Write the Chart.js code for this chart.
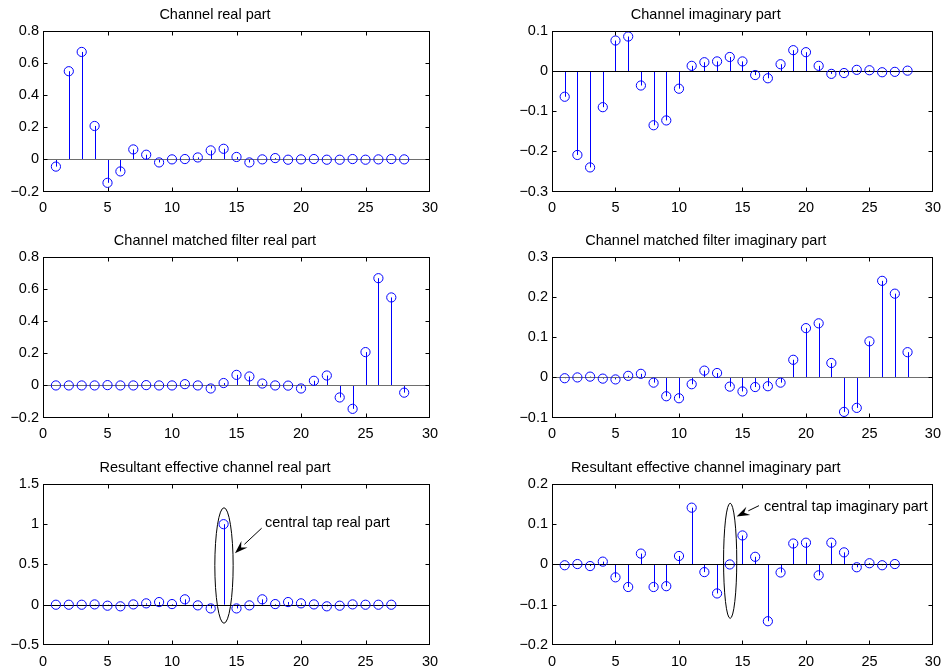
<!DOCTYPE html>
<html><head><meta charset="utf-8">
<script src="https://cdn.jsdelivr.net/npm/chart.js@4.4.1/dist/chart.umd.min.js"></script>
<style>
html,body{margin:0;padding:0;background:#fff;}
#wrap{position:relative;width:949px;height:666px;overflow:hidden;background:#fff;}
canvas{position:absolute;}
</style></head><body>
<div id="wrap">
<canvas id="c1" width="475" height="222" style="left:0px;top:0px"></canvas>
<canvas id="c2" width="474" height="222" style="left:475px;top:0px"></canvas>
<canvas id="c3" width="475" height="222" style="left:0px;top:225px"></canvas>
<canvas id="c4" width="474" height="222" style="left:475px;top:225px"></canvas>
<canvas id="c5" width="475" height="221" style="left:0px;top:445px"></canvas>
<canvas id="c6" width="474" height="221" style="left:475px;top:445px"></canvas>
</div>
<script>
// ---- categories (tap index) ----
const taps28 = [1,2,3,4,5,6,7,8,9,10,11,12,13,14,15,16,17,18,19,20,21,22,23,24,25,26,27,28];
const taps27 = [1,2,3,4,5,6,7,8,9,10,11,12,13,14,15,16,17,18,19,20,21,22,23,24,25,26,27];

// ---- series values ----
const chanReal = [-0.045,0.549,0.669,0.208,-0.146,-0.075,0.062,0.029,-0.019,0.000,0.002,0.012,0.056,0.066,0.015,-0.019,0.000,0.008,-0.002,0.000,0.002,-0.002,-0.002,0.002,-0.002,0.000,0.002,0.000];
const chanImag = [-0.064,-0.209,-0.240,-0.090,0.076,0.086,-0.036,-0.135,-0.123,-0.044,0.013,0.022,0.024,0.035,0.024,-0.010,-0.018,0.017,0.052,0.047,0.013,-0.007,-0.005,0.003,0.002,-0.003,-0.002,0.001];
const mfReal = [0.000,0.000,0.000,0.000,0.002,0.000,0.000,0.002,0.000,0.000,0.008,0.000,-0.019,0.015,0.066,0.056,0.012,0.000,-0.001,-0.019,0.029,0.062,-0.075,-0.146,0.208,0.669,0.549,-0.045];
const mfImag = [-0.002,0.000,0.002,-0.003,-0.005,0.004,0.009,-0.013,-0.047,-0.052,-0.017,0.017,0.011,-0.023,-0.035,-0.024,-0.022,-0.013,0.044,0.123,0.135,0.036,-0.086,-0.076,0.090,0.241,0.209,0.063];
const effReal = [0.000,0.000,0.000,0.004,-0.012,-0.020,0.004,0.017,0.033,0.008,0.067,-0.008,-0.046,1.000,-0.046,-0.008,0.067,0.008,0.033,0.017,0.004,-0.020,-0.012,0.004,0.000,0.000,0.000];
const effImag = [-0.002,0.001,-0.004,0.007,-0.032,-0.056,0.027,-0.056,-0.054,0.021,0.141,-0.019,-0.072,0.000,0.072,0.019,-0.141,-0.020,0.052,0.054,-0.027,0.054,0.030,-0.007,0.003,-0.002,0.001];

// ---- tick labels ----
const xTicks = [0,5,10,15,20,25,30];
const yTicksReal = [-0.2,0,0.2,0.4,0.6,0.8];
const yTicksChanImag = [-0.3,-0.2,-0.1,0,0.1];
const yTicksMfImag = [-0.1,0,0.1,0.2,0.3];
const yTicksEffReal = [-0.5,0,0.5,1,1.5];
const yTicksEffImag = [-0.2,-0.1,0,0.1,0.2];

// ---- titles ----
const titles = [
  'Channel real part',
  'Channel imaginary part',
  'Channel matched filter real part',
  'Channel matched filter imaginary part',
  'Resultant effective channel real part',
  'Resultant effective channel imaginary part'
];

// ---- annotations (data coordinates) ----
const noteReal = {text:'central tap real part', tx:17.2, ty:1.02,
  ell:{cx:14.03, cy:0.487, rx:0.71, ry:0.717}, arrow:{x1:16.95, y1:0.95, x2:14.88, y2:0.64}};
const noteImag = {text:'central tap imaginary part', tx:16.7, ty:0.142,
  ell:{cx:14.03, cy:0.009, rx:0.52, ry:0.143}, arrow:{x1:16.3, y1:0.146, x2:14.54, y2:0.119}};

const FONT = '"Liberation Sans", Arial, Helvetica, sans-serif';

function fmt(v){
  let s = String(parseFloat(Number(v).toFixed(2)));
  if (s.charAt(0) === '-') s = '\u2212' + s.slice(1);
  return s;
}

const stemPlugin = {
  id: 'stem',
  beforeDatasetsDraw(chart, args, opts) {
    const {ctx, chartArea: a, scales: {x, y}} = chart;
    const y0 = y.getPixelForValue(0);
    ctx.save();
    ctx.lineWidth = 1;
    ctx.strokeStyle = '#0000ff';
    const meta = chart.getDatasetMeta(0);
    meta.data.forEach(pt => {
      const px = Math.round(pt.x) + 0.5;
      ctx.beginPath(); ctx.moveTo(px, y0); ctx.lineTo(px, pt.y); ctx.stroke();
    });
    ctx.strokeStyle = opts.baseColor || '#000';
    const yb = Math.round(y0) + 0.5;
    ctx.beginPath(); ctx.moveTo(a.left, yb); ctx.lineTo(a.right, yb); ctx.stroke();
    ctx.restore();
  },
  afterDraw(chart, args, opts) {
    const {ctx, chartArea: a, scales: {x, y}} = chart;
    ctx.save();
    ctx.strokeStyle = '#000';
    ctx.lineWidth = 1;
    const L = Math.round(a.left) + 0.5, R = Math.round(a.right) - 0.5;
    const T = Math.round(a.top) + 0.5, B = Math.round(a.bottom) - 0.5;
    ctx.strokeRect(L, T, R - L, B - T);
    const tl = 4;
    ctx.beginPath();
    x.ticks.forEach(t => {
      const px = Math.round(x.getPixelForValue(t.value)) + 0.5;
      if (px <= L + 1 || px >= R - 1) return;
      ctx.moveTo(px, B); ctx.lineTo(px, B - tl);
      ctx.moveTo(px, T); ctx.lineTo(px, T + tl);
    });
    y.ticks.forEach(t => {
      const py = Math.round(y.getPixelForValue(t.value)) + 0.5;
      if (py <= T + 1 || py >= B - 1) return;
      ctx.moveTo(L, py); ctx.lineTo(L + tl, py);
      ctx.moveTo(R, py); ctx.lineTo(R - tl, py);
    });
    ctx.stroke();
    const n = opts.note;
    if (n) {
      // ellipse
      const cx = x.getPixelForValue(n.ell.cx), cy = y.getPixelForValue(n.ell.cy);
      const rx = Math.abs(x.getPixelForValue(n.ell.cx + n.ell.rx) - cx);
      const ry = Math.abs(y.getPixelForValue(n.ell.cy + n.ell.ry) - cy);
      ctx.beginPath(); ctx.ellipse(cx, cy, rx, ry, 0, 0, Math.PI * 2); ctx.stroke();
      // arrow
      const x1 = x.getPixelForValue(n.arrow.x1), y1 = y.getPixelForValue(n.arrow.y1);
      const x2 = x.getPixelForValue(n.arrow.x2), y2 = y.getPixelForValue(n.arrow.y2);
      const ang = Math.atan2(y2 - y1, x2 - x1);
      const hl = 13, hw = 4.5;
      const bx = x2 - hl * Math.cos(ang), by = y2 - hl * Math.sin(ang);
      ctx.beginPath(); ctx.moveTo(x1, y1); ctx.lineTo(bx, by); ctx.stroke();
      ctx.fillStyle = '#000';
      ctx.beginPath();
      ctx.moveTo(x2, y2);
      ctx.lineTo(bx + hw * Math.sin(ang), by - hw * Math.cos(ang));
      ctx.lineTo(bx + 0.35 * hl * Math.cos(ang), by + 0.35 * hl * Math.sin(ang));
      ctx.lineTo(bx - hw * Math.sin(ang), by + hw * Math.cos(ang));
      ctx.closePath(); ctx.fill();
      // label
      ctx.font = '14.5px ' + FONT;
      ctx.textAlign = 'left'; ctx.textBaseline = 'middle';
      ctx.fillText(n.text, x.getPixelForValue(n.tx), y.getPixelForValue(n.ty));
    }
    ctx.restore();
  }
};

function makePanel(id, title, taps, values, yTicks, geo, baseColor, note) {
  const data = taps.map((t, i) => ({x: t, y: values[i]}));
  return new Chart(document.getElementById(id), {
    type: 'scatter',
    data: {datasets: [{
      data,
      showLine: false,
      pointStyle: 'circle',
      pointRadius: 4.6,
      pointHoverRadius: 4.6,
      pointBorderWidth: 1,
      borderColor: '#0000ff',
      backgroundColor: 'rgba(0,0,0,0)'
    }]},
    options: {
      responsive: false,
      animation: false,
      devicePixelRatio: 1,
      events: [],
      layout: {padding: {left: 0, right: geo.right, top: 0, bottom: 0}},
      plugins: {
        legend: {display: false},
        tooltip: {enabled: false},
        title: {display: true, text: title, color: '#000',
          font: {family: FONT, size: 14.5, weight: 'normal'},
          padding: {top: geo.tpTop, bottom: geo.tpBottom}},
        stem: {baseColor, note}
      },
      scales: {
        x: {
          type: 'linear', min: xTicks[0], max: xTicks[xTicks.length - 1],
          afterBuildTicks: s => { s.ticks = xTicks.map(v => ({value: v})); },
          afterFit: s => { s.height = geo.xh; },
          grid: {display: false, drawTicks: false},
          border: {display: false},
          ticks: {color: '#000', padding: 8, maxRotation: 0, autoSkip: false,
            font: {family: FONT, size: 14.5}, callback: v => fmt(v)}
        },
        y: {
          type: 'linear', min: yTicks[0], max: yTicks[yTicks.length - 1],
          afterBuildTicks: s => { s.ticks = yTicks.map(v => ({value: v})); },
          afterFit: s => { s.width = geo.yw; },
          grid: {display: false, drawTicks: false},
          border: {display: false},
          ticks: {color: '#000', padding: 4, autoSkip: false,
            font: {family: FONT, size: 14.5}, callback: v => fmt(v)}
        }
      }
    },
    plugins: [stemPlugin]
  });
}

// geometry: yw = y-axis width, right = right padding, xh = x-axis height, title paddings
const geoL1 = {yw: 43, right: 45, xh: 30.5, tpTop: 6.5, tpBottom: 7};
const geoR1 = {yw: 77, right: 12.5, xh: 30.5, tpTop: 6.5, tpBottom: 7};
const geoL2 = {yw: 43, right: 45, xh: 29.5, tpTop: 7.5, tpBottom: 7.3};
const geoR2 = {yw: 77, right: 12.5, xh: 29.5, tpTop: 7.5, tpBottom: 7.3};
const geoL3 = {yw: 43, right: 45, xh: 21, tpTop: 14.5, tpBottom: 7};
const geoR3 = {yw: 77, right: 12.5, xh: 21, tpTop: 14.5, tpBottom: 7};

makePanel('c1', titles[0], taps28, chanReal, yTicksReal, geoL1, '#6e6e6e', null);
makePanel('c2', titles[1], taps28, chanImag, yTicksChanImag, geoR1, '#000000', null);
makePanel('c3', titles[2], taps28, mfReal, yTicksReal, geoL2, '#6e6e6e', null);
makePanel('c4', titles[3], taps28, mfImag, yTicksMfImag, geoR2, '#6e6e6e', null);
makePanel('c5', titles[4], taps27, effReal, yTicksEffReal, geoL3, '#000000', noteReal);
makePanel('c6', titles[5], taps27, effImag, yTicksEffImag, geoR3, '#000000', noteImag);
</script>
</body></html>
